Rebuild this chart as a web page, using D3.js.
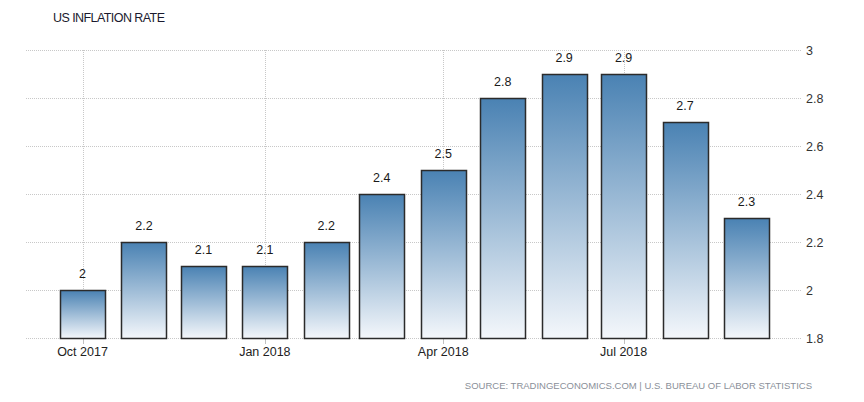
<!DOCTYPE html>
<html><head><meta charset="utf-8">
<script src="https://cdn.jsdelivr.net/npm/d3@7"></script>
<style>body{margin:0;background:#fff;}svg{display:block;font-family:"Liberation Sans",Arial,sans-serif;}</style>
</head><body>
<svg id="c" width="864" height="402"></svg>
<script>
const dates = ["2017-10-01","2017-11-01","2017-12-01","2018-01-01","2018-02-01","2018-03-01","2018-04-01","2018-05-01","2018-06-01","2018-07-01","2018-08-01","2018-09-01"];
const values = [2.0,2.2,2.1,2.1,2.2,2.4,2.5,2.8,2.9,2.9,2.7,2.3];
const xTickDates = ["2017-10-01","2018-01-01","2018-04-01","2018-07-01"];
const xTickLabels = ["Oct 2017","Jan 2018","Apr 2018","Jul 2018"];
const yTicks = [1.8,2.0,2.2,2.4,2.6,2.8,3.0];
const title = "US INFLATION RATE";
const source = "SOURCE: TRADINGECONOMICS.COM | U.S. BUREAU OF LABOR STATISTICS";

const parse = d3.utcParse("%Y-%m-%d");
const svg = d3.select("#c");
const x = d3.scaleUtc().domain([parse(dates[0]), parse(dates[dates.length-1])]).range([82.5,746.5]);
const y = d3.scaleLinear().domain([1.8,3.0]).range([338,50]);
const bw = 45;

const defs = svg.append("defs");
const g = defs.append("linearGradient").attr("id","bg").attr("x1",0).attr("y1",0).attr("x2",0).attr("y2",1);
g.append("stop").attr("offset","0%").attr("stop-color","#4a82b3");
g.append("stop").attr("offset","100%").attr("stop-color","#f4f7fb");

// horizontal grid
svg.append("g").selectAll("line").data(yTicks).join("line")
  .attr("x1",26).attr("x2",802).attr("y1",d=>Math.round(y(d))+0.5).attr("y2",d=>Math.round(y(d))+0.5)
  .attr("stroke","#c8c8c8").attr("stroke-dasharray","1,1");
// vertical grid
const tx = d => Math.round(x(parse(d)))+0.5;
svg.append("g").selectAll("line").data(xTickDates).join("line")
  .attr("x1",tx).attr("x2",tx).attr("y1",50).attr("y2",338).attr("stroke","#c8c8c8").attr("stroke-dasharray","1,1");
svg.append("g").selectAll("line").data(xTickDates).join("line")
  .attr("x1",tx).attr("x2",tx).attr("y1",338).attr("y2",344).attr("stroke","#c0c0c0");

// bars
svg.append("g").selectAll("rect").data(values).join("rect")
  .attr("x",(d,i)=>Math.round(x(parse(dates[i]))-bw/2)+0.5)
  .attr("y",d=>Math.round(y(d))+0.5)
  .attr("width",bw)
  .attr("height",d=>Math.round(y(1.8))-Math.round(y(d)))
  .attr("fill","url(#bg)").attr("stroke","#2b2b2b").attr("stroke-width",1.5);

// value labels
svg.append("g").selectAll("text").data(values).join("text")
  .attr("x",(d,i)=>x(parse(dates[i])))
  .attr("y",d=>y(d)-12)
  .attr("text-anchor","middle").attr("font-size",12.5).attr("fill","#1a1a1a")
  .text(d=>d3.format("")(d));

// y axis labels
svg.append("g").selectAll("text").data(yTicks).join("text")
  .attr("x",806).attr("y",d=>y(d)+4.5).attr("font-size",12.5).attr("fill","#333")
  .text(d=>d3.format("")(+d.toFixed(1)));

// x labels
svg.append("g").selectAll("text").data(xTickDates).join("text")
  .attr("x",d=>x(parse(d))).attr("y",356)
  .attr("text-anchor","middle").attr("font-size",12.5).attr("fill","#222")
  .text((d,i)=>xTickLabels[i]);

svg.append("text").attr("x",53).attr("y",22).attr("font-size",12.5).attr("fill","#1a1a2e")
  .attr("textLength",112).text(title);
svg.append("text").attr("x",812).attr("y",389).attr("text-anchor","end").attr("font-size",9.5).attr("fill","#8a8f99")
  .text(source);
</script>
</body></html>
